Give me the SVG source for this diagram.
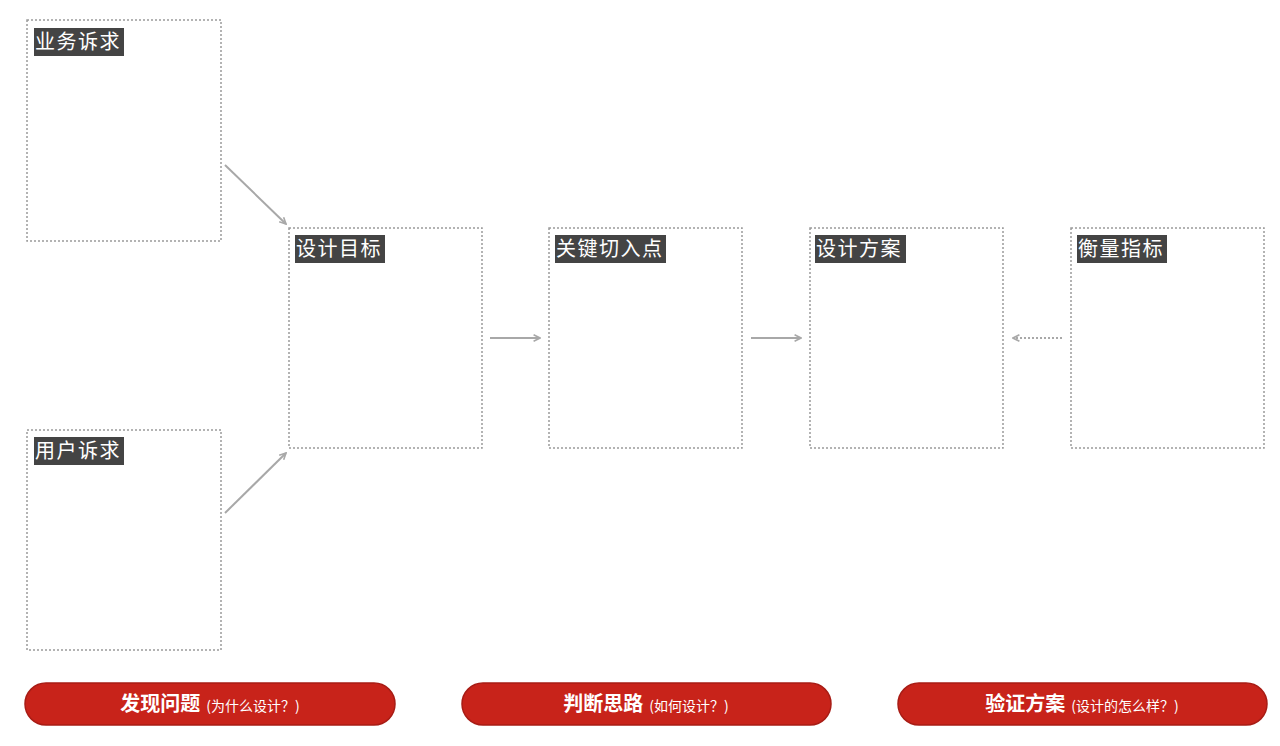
<svg xmlns="http://www.w3.org/2000/svg" width="1280" height="746" viewBox="0 0 1280 746">
<defs>
<style>
.box{fill:#fff;stroke:#9a9a9a;stroke-width:1.5;stroke-dasharray:2 2}
.lab{fill:#444}
.labt{fill:#fff;font-family:"Noto Sans CJK SC","Liberation Sans",sans-serif;font-size:20px;letter-spacing:1.5px}
.con{stroke:#a8a8a8;stroke-width:2;fill:none}
.pill{fill:#c8231a;stroke:#a81c15;stroke-width:1.5}
.pt{fill:#fff;font-family:"Noto Sans CJK SC","Liberation Sans",sans-serif;text-anchor:middle}
.big{font-size:20px;font-weight:bold}
.small{font-size:14px}
</style>
<marker id="ah" viewBox="0 0 10 10" refX="9" refY="5" markerWidth="4" markerHeight="4" orient="auto" markerUnits="strokeWidth">
<path d="M1,1 L9,5 L1,9" fill="none" stroke="#a8a8a8" stroke-width="2"/>
</marker>
</defs>
<rect width="1280" height="746" fill="#fff"/>
<g id="connectors">
<line class="con" x1="225" y1="165" x2="286" y2="224" marker-end="url(#ah)"/>
<line class="con" x1="225" y1="513" x2="286" y2="453" marker-end="url(#ah)"/>
<line class="con" x1="490" y1="338" x2="540" y2="338" marker-end="url(#ah)"/>
<line class="con" x1="751" y1="338" x2="801" y2="338" marker-end="url(#ah)"/>
<line class="con" x1="1062" y1="338" x2="1013" y2="338" stroke-dasharray="2 2" marker-end="url(#ah)"/>
</g>
<g id="n-yewu">
<rect class="box" x="27" y="20" width="194" height="221"/>
<rect class="lab" x="34" y="28" width="90" height="28"/>
<text class="labt" x="35" y="49">业务诉求</text>
</g>
<g id="n-yonghu">
<rect class="box" x="27" y="430" width="194" height="220"/>
<rect class="lab" x="34" y="437" width="90" height="28"/>
<text class="labt" x="35" y="458">用户诉求</text>
</g>
<g id="n-mubiao">
<rect class="box" x="289" y="228" width="193" height="220"/>
<rect class="lab" x="295" y="235" width="90" height="28"/>
<text class="labt" x="296" y="256">设计目标</text>
</g>
<g id="n-qierudian">
<rect class="box" x="549" y="228" width="193" height="220"/>
<rect class="lab" x="555" y="235" width="111" height="28"/>
<text class="labt" x="556" y="256">关键切入点</text>
</g>
<g id="n-fangan">
<rect class="box" x="810" y="228" width="193" height="220"/>
<rect class="lab" x="815" y="235" width="91" height="28"/>
<text class="labt" x="816" y="256">设计方案</text>
</g>
<g id="n-zhibiao">
<rect class="box" x="1071" y="228" width="193" height="220"/>
<rect class="lab" x="1077" y="235" width="90" height="28"/>
<text class="labt" x="1078" y="256">衡量指标</text>
</g>
<g id="b-faxian">
<rect class="pill" x="25" y="683" width="370" height="42" rx="21"/>
<text class="pt" x="210" y="711"><tspan class="big">发现问题</tspan><tspan class="small" dx="6">(为什么设计？)</tspan></text>
</g>
<g id="b-panduan">
<rect class="pill" x="462" y="683" width="369" height="42" rx="21"/>
<text class="pt" x="646" y="711"><tspan class="big">判断思路</tspan><tspan class="small" dx="6">(如何设计？)</tspan></text>
</g>
<g id="b-yanzheng">
<rect class="pill" x="898" y="683" width="369" height="42" rx="21"/>
<text class="pt" x="1082" y="711"><tspan class="big">验证方案</tspan><tspan class="small" dx="6">(设计的怎么样？)</tspan></text>
</g>
</svg>
